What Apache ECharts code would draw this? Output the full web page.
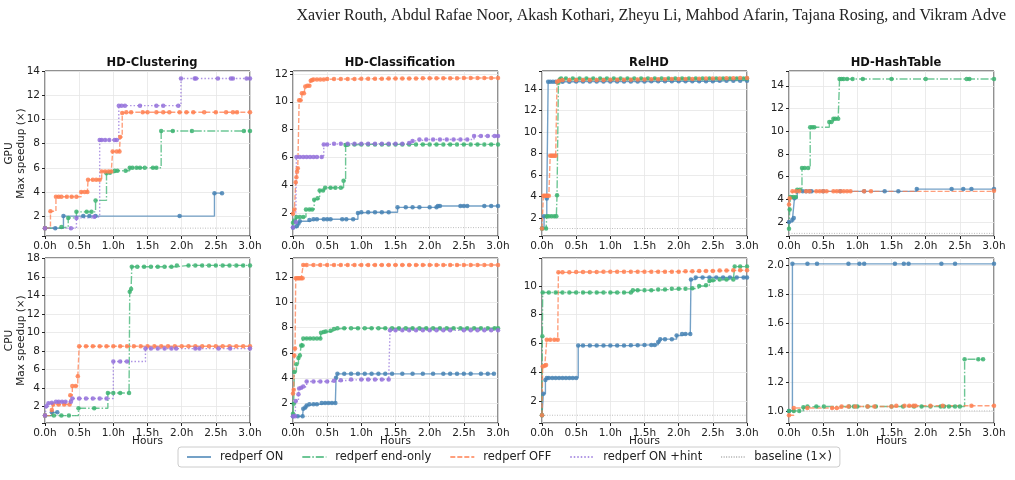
<!DOCTYPE html>
<html>
<head>
<meta charset="utf-8">
<script src="https://cdn.jsdelivr.net/npm/echarts@6/dist/echarts.min.js"></script>
<style>
html, body { margin: 0; padding: 0; background: #fff; }
#chart { width: 1015px; height: 480px; }
</style>
</head>
<body>
<div id="chart"></div>
<script>
var authors = 'Xavier Routh, Abdul Rafae Noor, Akash Kothari, Zheyu Li, Mahbod Afarin, Tajana Rosing, and Vikram Adve';
var panelTitles = ['HD-Clustering', 'HD-Classification', 'RelHD', 'HD-HashTable'];
var rowNames = ['GPU', 'CPU'];
var seriesNames = ['redperf ON', 'redperf end-only', 'redperf OFF', 'redperf ON +hint'];
var baselineName = 'baseline (1×)';
var baselineValue = 1;
var xMax = 3, xStep = 0.5;
// y range of each panel (GPU row first, then CPU row) and tick step
var yLimits = [[0.35, 14.02], [0.4, 12.2], [0.3, 15.7], [0.77, 15.3], [0.2, 18.05], [0.47, 13.5], [0.46, 11.95], [0.917, 2.05]];
var ySteps = [2, 2, 2, 2, 2, 2, 2, 0.2];

// ---- GPU HD-Clustering
var gpuClusterOn = [[0,1],[0.15,1],[0.27,2],[0.56,2],[0.65,2],[0.74,2],[1.97,2],[2.48,3.9],[2.59,3.9]];
var gpuClusterEnd = [[0,1],[0.24,1.1],[0.34,1.85],[0.46,2.35],[0.61,2.35],[0.68,2.35],[0.74,3.3],[0.9,5.55],[0.95,5.6],[1.02,5.75],[1.06,5.75],[1.18,5.75],[1.24,6],[1.28,6],[1.34,6],[1.39,6],[1.46,6],[1.58,6],[1.63,6],[1.7,9.05],[1.87,9.05],[2.15,9.05],[2.91,9.05],[3,9.05]];
var gpuClusterOff = [[0,1],[0.08,2.4],[0.16,3.6],[0.2,3.6],[0.24,3.6],[0.32,3.6],[0.39,3.6],[0.46,3.6],[0.53,4],[0.58,4],[0.62,4],[0.63,5],[0.7,5],[0.75,5],[0.8,5],[0.83,5.7],[0.88,5.7],[0.93,5.7],[0.97,5.7],[0.99,7.35],[1.05,7.35],[1.09,7.35],[1.1,8.55],[1.13,10.55],[1.19,10.6],[1.26,10.6],[1.43,10.6],[1.5,10.6],[1.63,10.6],[1.73,10.6],[1.82,10.6],[1.97,10.6],[2.07,10.6],[2.17,10.6],[2.33,10.6],[2.5,10.6],[2.65,10.6],[2.75,10.6],[2.81,10.6],[3,10.6]];
var gpuClusterHint = [[0,1],[0.38,1],[0.46,1.85],[0.72,1.95],[0.8,8.3],[0.83,8.3],[0.88,8.3],[0.94,8.3],[1.02,8.3],[1.05,8.3],[1.08,11.15],[1.12,11.15],[1.17,11.15],[1.39,11.15],[1.63,11.15],[1.73,11.15],[1.95,11.15],[1.99,13.4],[2.19,13.4],[2.21,13.4],[2.53,13.4],[2.72,13.4],[2.75,13.4],[2.95,13.4],[3,13.4]];

// ---- GPU HD-Classification
var gpuClassOn = [[0,1],[0.05,1.1],[0.08,1.3],[0.1,1.45],[0.24,1.55],[0.3,1.6],[0.35,1.6],[0.45,1.6],[0.5,1.6],[0.55,1.6],[0.72,1.6],[0.78,1.6],[0.88,1.6],[0.95,2.05],[1,2.1],[1.1,2.1],[1.2,2.1],[1.3,2.1],[1.4,2.1],[1.53,2.45],[1.65,2.45],[1.75,2.45],[1.85,2.45],[2,2.45],[2.1,2.45],[2.12,2.55],[2.15,2.55],[2.45,2.55],[2.5,2.55],[2.55,2.55],[2.8,2.55],[2.9,2.55],[3,2.55]];
var gpuClassEnd = [[0,1.35],[0.02,1.5],[0.05,1.75],[0.1,1.75],[0.15,1.75],[0.19,2.3],[0.24,2.3],[0.28,2.3],[0.31,3],[0.36,3.1],[0.39,3.65],[0.44,3.65],[0.47,3.85],[0.55,3.85],[0.62,3.85],[0.7,3.85],[0.74,4.35],[0.77,6.9],[0.8,6.92],[0.9,6.95],[1,6.95],[1.1,6.95],[1.2,6.95],[1.3,6.95],[1.4,6.95],[1.5,6.95],[1.6,6.95],[1.7,6.95],[1.8,6.95],[1.9,6.95],[2,6.95],[2.1,6.95],[2.2,6.95],[2.3,6.95],[2.4,6.95],[2.5,6.95],[2.6,6.95],[2.7,6.95],[2.8,6.95],[2.9,6.95],[3,6.95]];
var gpuClassOff = [[0,2],[0.02,2.3],[0.04,4.25],[0.05,4.6],[0.06,5],[0.07,5.25],[0.09,10.1],[0.11,10.1],[0.13,10.6],[0.16,10.6],[0.18,11.1],[0.21,11.15],[0.24,11.15],[0.26,11.5],[0.28,11.55],[0.3,11.6],[0.35,11.6],[0.4,11.6],[0.45,11.6],[0.5,11.62],[0.6,11.62],[0.7,11.63],[0.8,11.63],[0.9,11.63],[1,11.64],[1.1,11.65],[1.2,11.65],[1.3,11.65],[1.4,11.66],[1.5,11.66],[1.6,11.66],[1.7,11.67],[1.8,11.67],[1.9,11.68],[2,11.68],[2.1,11.68],[2.2,11.68],[2.3,11.69],[2.4,11.69],[2.5,11.7],[2.6,11.7],[2.7,11.7],[2.8,11.7],[2.9,11.7],[3,11.7]];
var gpuClassHint = [[0,1],[0.04,1.4],[0.05,6.05],[0.1,6.05],[0.15,6.05],[0.2,6.05],[0.25,6.05],[0.3,6.05],[0.35,6.05],[0.42,6.05],[0.45,6.95],[0.5,6.95],[0.6,7],[0.7,7],[0.8,7],[0.9,7],[1,7],[1.1,7],[1.2,7],[1.3,7],[1.4,7],[1.5,7],[1.6,7],[1.7,7.05],[1.75,7.2],[1.85,7.3],[1.95,7.3],[2.05,7.3],[2.15,7.3],[2.25,7.3],[2.35,7.3],[2.45,7.3],[2.55,7.3],[2.65,7.55],[2.75,7.55],[2.85,7.55],[2.95,7.55],[3,7.55]];

// ---- GPU RelHD
var gpuRelOn = [[0,1],[0.03,2.15],[0.07,3.8],[0.09,14.7],[0.12,14.7],[0.16,14.7],[0.2,14.7],[0.3,14.7],[0.4,14.7],[0.5,14.72],[0.6,14.72],[0.7,14.72],[0.8,14.72],[0.9,14.72],[1,14.72],[1.1,14.72],[1.2,14.72],[1.3,14.72],[1.4,14.72],[1.5,14.72],[1.6,14.75],[1.7,14.75],[1.8,14.75],[1.9,14.75],[2,14.75],[2.1,14.75],[2.2,14.75],[2.3,14.75],[2.4,14.75],[2.5,14.75],[2.6,14.8],[2.7,14.8],[2.8,14.8],[2.9,14.8],[3,14.8]];
var gpuRelEnd = [[0,1],[0.06,1],[0.07,2.15],[0.1,2.15],[0.14,2.15],[0.18,2.15],[0.21,2.15],[0.22,4.1],[0.24,14.6],[0.26,14.9],[0.28,15],[0.35,15],[0.45,15],[0.55,15],[0.65,15],[0.75,15],[0.85,15],[0.95,15],[1.05,15],[1.15,15],[1.25,15],[1.35,15],[1.45,15],[1.55,15],[1.65,15],[1.75,15],[1.85,15],[1.95,15],[2.05,15],[2.15,15],[2.25,15],[2.35,15],[2.45,15],[2.55,15],[2.65,15],[2.75,15],[2.85,15],[2.95,15],[3,15]];
var gpuRelOff = [[0,1],[0.02,4.05],[0.04,4.05],[0.06,4.05],[0.08,4.05],[0.1,4.05],[0.12,7.8],[0.14,7.8],[0.16,7.8],[0.18,7.8],[0.2,7.8],[0.22,14.7],[0.25,14.8],[0.3,14.85],[0.4,14.85],[0.5,14.85],[0.6,14.85],[0.7,14.85],[0.8,14.85],[0.9,14.85],[1,14.88],[1.1,14.88],[1.2,14.88],[1.3,14.88],[1.4,14.9],[1.5,14.9],[1.6,14.92],[1.7,14.92],[1.8,14.92],[1.9,14.95],[2,14.95],[2.1,14.95],[2.2,14.95],[2.3,14.97],[2.4,15],[2.5,15],[2.6,15],[2.7,15.02],[2.8,15.02],[2.9,15.05],[3,15.05]];

// ---- GPU HD-HashTable
var gpuHashOn = [[0,2],[0.05,2.2],[0.07,2.35],[0.08,4.1],[0.12,4.7],[0.2,4.7],[0.25,4.7],[0.3,4.7],[0.33,4.7],[0.5,4.7],[0.75,4.7],[1.1,4.7],[1.4,4.7],[1.6,4.7],[1.87,4.9],[2.38,4.9],[2.55,4.9],[2.67,4.9],[3,4.9]];
var gpuHashEnd = [[0,1.4],[0.01,3.1],[0.02,4.2],[0.06,4.2],[0.1,4.2],[0.12,4.85],[0.16,4.85],[0.19,6.75],[0.23,6.75],[0.28,6.75],[0.31,10.35],[0.34,10.35],[0.37,10.35],[0.59,10.8],[0.62,10.8],[0.65,11.1],[0.68,11.1],[0.72,11.1],[0.74,14.6],[0.77,14.6],[0.8,14.6],[0.85,14.6],[0.93,14.6],[1.08,14.6],[1.5,14.6],[2,14.6],[2.6,14.6],[2.64,14.6],[3,14.6]];
var gpuHashOff = [[0,3.55],[0.01,4.1],[0.05,4.7],[0.1,4.7],[0.15,4.7],[0.25,4.7],[0.3,4.7],[0.4,4.7],[0.45,4.7],[0.5,4.7],[0.55,4.7],[0.65,4.7],[0.7,4.7],[0.75,4.7],[0.8,4.7],[0.85,4.7],[0.9,4.7],[1.1,4.7],[1.2,4.7],[3,4.75]];

// ---- CPU HD-Clustering
var cpuClusterOn = [[0,1],[0.1,1.35],[0.18,1.35]];
var cpuClusterEnd = [[0,1],[0.13,1],[0.24,1],[0.35,1],[0.49,1.8],[0.72,1.8],[0.92,3.45],[1,3.45],[1.1,3.45],[1.23,3.45],[1.24,14.4],[1.26,14.7],[1.27,17.1],[1.35,17.1],[1.45,17.1],[1.55,17.1],[1.65,17.1],[1.75,17.1],[1.85,17.1],[1.93,17.25],[2.1,17.25],[2.2,17.25],[2.3,17.25],[2.4,17.25],[2.5,17.25],[2.6,17.25],[2.7,17.25],[2.8,17.25],[2.9,17.25],[3,17.25]];
var cpuClusterOff = [[0,1],[0.1,1.6],[0.12,2.2],[0.2,2.2],[0.28,2.2],[0.36,2.2],[0.37,3.2],[0.4,4.2],[0.45,4.2],[0.48,5.25],[0.5,8.5],[0.6,8.5],[0.7,8.5],[0.8,8.5],[0.9,8.5],[1,8.5],[1.1,8.5],[1.2,8.5],[1.3,8.5],[1.4,8.5],[1.5,8.5],[1.6,8.5],[1.7,8.5],[1.8,8.5],[1.9,8.5],[2,8.5],[2.1,8.5],[2.2,8.5],[2.3,8.5],[2.4,8.5],[2.5,8.5],[2.6,8.5],[2.7,8.5],[2.8,8.5],[2.9,8.5],[3,8.5]];
var cpuClusterHint = [[0,1],[0.02,2],[0.05,2.35],[0.1,2.4],[0.16,2.5],[0.2,2.5],[0.25,2.5],[0.3,2.5],[0.38,2.5],[0.4,2.85],[0.5,2.85],[0.6,2.85],[0.7,2.85],[0.8,2.85],[0.9,2.85],[1,6.85],[1.1,6.85],[1.2,6.85],[1.47,8.25],[1.55,8.25],[1.65,8.25],[1.75,8.25],[1.85,8.25],[1.92,8.25],[2.2,8.25],[2.26,8.25],[2.54,8.25],[2.71,8.25],[3,8.25]];

// ---- CPU HD-Classification
var cpuClassOn = [[0,1],[0.07,1],[0.14,1],[0.15,1.6],[0.18,1.7],[0.2,1.85],[0.24,1.95],[0.3,1.95],[0.35,1.95],[0.42,2.05],[0.47,2.05],[0.52,2.05],[0.57,2.05],[0.62,2.05],[0.63,4.05],[0.65,4.35],[0.75,4.35],[0.85,4.35],[0.95,4.35],[1.05,4.35],[1.15,4.35],[1.25,4.35],[1.35,4.35],[1.45,4.35],[1.6,4.35],[1.75,4.35],[1.9,4.35],[2.05,4.35],[2.2,4.35],[2.3,4.35],[2.4,4.35],[2.5,4.35],[2.6,4.35],[2.75,4.35],[2.85,4.35],[2.94,4.35]];
var cpuClassEnd = [[0,1.2],[0.01,2],[0.02,4.5],[0.05,5.1],[0.08,5.6],[0.1,5.8],[0.12,6.6],[0.14,6.6],[0.15,7.15],[0.2,7.15],[0.25,7.15],[0.3,7.15],[0.35,7.15],[0.4,7.15],[0.41,7.6],[0.45,7.65],[0.48,7.7],[0.55,7.75],[0.6,7.9],[0.65,7.95],[0.75,7.95],[0.85,7.95],[0.95,7.95],[1.05,7.95],[1.15,7.95],[1.25,7.95],[1.35,7.95],[1.45,7.95],[1.55,7.95],[1.65,7.95],[1.75,7.95],[1.85,7.95],[1.95,7.95],[2.05,7.95],[2.15,7.95],[2.25,7.95],[2.35,7.95],[2.45,7.95],[2.55,7.95],[2.65,7.95],[2.75,7.95],[2.85,7.95],[2.95,7.95],[3,7.95]];
var cpuClassOff = [[0,2.8],[0.01,3.1],[0.02,5.8],[0.03,6.35],[0.04,11.9],[0.06,11.9],[0.08,11.9],[0.1,11.9],[0.12,11.9],[0.14,11.9],[0.15,12.95],[0.2,12.95],[0.3,12.95],[0.4,12.95],[0.5,12.95],[0.6,12.95],[0.7,12.95],[0.8,12.95],[0.9,12.95],[1,12.95],[1.1,12.95],[1.2,12.95],[1.3,12.95],[1.4,12.95],[1.5,12.95],[1.6,12.95],[1.7,12.95],[1.8,12.95],[1.9,12.95],[2,12.95],[2.1,12.95],[2.2,12.95],[2.3,12.95],[2.4,12.95],[2.5,12.95],[2.6,12.95],[2.7,12.95],[2.8,12.95],[2.9,12.95],[3,12.95]];
var cpuClassHint = [[0,1],[0.03,1],[0.04,2.2],[0.08,2.75],[0.09,3.2],[0.12,3.25],[0.15,3.35],[0.2,3.75],[0.3,3.75],[0.4,3.75],[0.5,3.75],[0.6,3.8],[0.7,3.85],[0.85,3.9],[1,3.9],[1.1,3.9],[1.2,3.9],[1.3,3.9],[1.4,3.9],[1.42,7.8],[1.5,7.8],[1.6,7.8],[1.7,7.8],[1.8,7.8],[1.9,7.8],[2,7.8],[2.1,7.8],[2.2,7.8],[2.3,7.8],[2.5,7.8],[2.6,7.8],[2.7,7.8],[2.8,7.8],[2.9,7.8],[3,7.8]];

// ---- CPU RelHD
var cpuRelOn = [[0,1],[0.02,2.5],[0.05,3.45],[0.07,3.6],[0.1,3.6],[0.15,3.6],[0.2,3.6],[0.25,3.6],[0.3,3.6],[0.35,3.6],[0.4,3.6],[0.45,3.6],[0.5,3.6],[0.53,5.85],[0.6,5.85],[0.7,5.85],[0.8,5.85],[0.9,5.85],[1,5.85],[1.1,5.85],[1.2,5.85],[1.3,5.88],[1.4,5.88],[1.5,5.9],[1.6,5.9],[1.65,5.9],[1.7,6.1],[1.73,6.3],[1.8,6.3],[1.9,6.3],[1.97,6.55],[2.05,6.65],[2.1,6.65],[2.17,6.65],[2.18,10.45],[2.25,10.6],[2.35,10.6],[2.45,10.6],[2.55,10.6],[2.65,10.6],[2.75,10.6],[2.85,10.6],[2.95,10.6],[3,10.6]];
var cpuRelEnd = [[0,1],[0.005,6.5],[0.01,9.55],[0.1,9.55],[0.2,9.55],[0.3,9.55],[0.4,9.55],[0.5,9.55],[0.6,9.55],[0.7,9.55],[0.8,9.55],[0.9,9.55],[1,9.55],[1.1,9.55],[1.2,9.55],[1.3,9.55],[1.33,9.7],[1.4,9.7],[1.5,9.7],[1.6,9.7],[1.7,9.75],[1.8,9.75],[1.9,9.8],[2,9.8],[2.1,9.8],[2.2,9.85],[2.3,10],[2.4,10.05],[2.45,10.35],[2.5,10.4],[2.6,10.45],[2.7,10.45],[2.8,10.45],[2.82,11.35],[2.9,11.35],[3,11.35]];
var cpuRelOff = [[0,1],[0.01,4.4],[0.04,4.45],[0.06,4.5],[0.07,6.25],[0.12,6.25],[0.18,6.25],[0.23,6.25],[0.24,10.95],[0.3,10.95],[0.4,10.95],[0.5,10.98],[0.6,10.98],[0.7,10.98],[0.8,10.98],[0.9,11],[1,11],[1.1,11],[1.2,11],[1.3,11],[1.4,11],[1.5,11],[1.6,11],[1.7,11],[1.8,11],[1.9,11],[2,11],[2.1,11.02],[2.2,11.02],[2.3,11.05],[2.4,11.05],[2.5,11.05],[2.6,11.08],[2.7,11.08],[2.8,11.1],[2.9,11.1],[3,11.1]];

// ---- CPU HD-HashTable
var cpuHashOn = [[0,1],[0.05,2.01],[0.27,2.01],[0.41,2.01],[0.87,2.01],[1.03,2.01],[1.1,2.01],[1.55,2.01],[1.68,2.01],[1.75,2.01],[2.23,2.01],[2.43,2.01],[3,2.01]];
var cpuHashEnd = [[0,1],[0.07,1],[0.15,1],[0.21,1.025],[0.27,1.03],[0.4,1.03],[0.51,1.03],[0.88,1.03],[0.95,1.03],[1,1.03],[1.15,1.03],[1.27,1.03],[1.5,1.03],[1.67,1.03],[1.83,1.03],[1.94,1.03],[2.07,1.03],[2.22,1.03],[2.27,1.03],[2.34,1.03],[2.43,1.03],[2.5,1.03],[2.57,1.355],[2.77,1.355],[2.84,1.355]];
var cpuHashOff = [[0,0.97],[0.07,1.02],[0.27,1.02],[0.63,1.02],[0.7,1.02],[0.77,1.03],[0.87,1.03],[0.97,1.03],[1.15,1.03],[1.25,1.03],[1.5,1.03],[1.57,1.035],[1.69,1.035],[1.76,1.035],[1.82,1.035],[1.85,1.035],[2.07,1.035],[2.25,1.035],[2.67,1.035],[3,1.035]];

var panels = [
  [gpuClusterOn, gpuClusterEnd, gpuClusterOff, gpuClusterHint],
  [gpuClassOn, gpuClassEnd, gpuClassOff, gpuClassHint],
  [gpuRelOn, gpuRelEnd, gpuRelOff, null],
  [gpuHashOn, gpuHashEnd, gpuHashOff, null],
  [cpuClusterOn, cpuClusterEnd, cpuClusterOff, cpuClusterHint],
  [cpuClassOn, cpuClassEnd, cpuClassOff, cpuClassHint],
  [cpuRelOn, cpuRelEnd, cpuRelOff, null],
  [cpuHashOn, cpuHashEnd, cpuHashOff, null]
];

var colors = ['#4682b4', '#3cb371', '#ff7f50', '#9370db'];
var dashes = ['solid', [8, 2, 1.5, 2], [5, 2], [1.5, 2]];
var gridLeft = [45, 293, 542, 789];
var gridTop = [71, 258];
var font = 'DejaVu Sans';

var grids = [], xAxes = [], yAxes = [], titles = [], series = [];

titles.push({
  text: authors, right: 4, top: 3,
  textStyle: { fontFamily: 'Liberation Serif', fontSize: 16, fontWeight: 'normal', color: '#222' }
});

panels.forEach(function (panel, p) {
  var row = Math.floor(p / 4), col = p % 4;
  var step = ySteps[p];
  grids.push({
    left: gridLeft[col], top: gridTop[row], width: 205, height: 165,
    show: true, borderColor: '#222', borderWidth: 1, outerBoundsMode: 'none'
  });
  xAxes.push({
    type: 'value', gridIndex: p, min: 0, max: xMax, interval: xStep,
    name: row === 1 ? 'Hours' : '', nameLocation: 'middle', nameGap: 13, nameMoveOverlap: false,
    nameTextStyle: { fontFamily: font, fontSize: 10.5, color: '#222' },
    axisLine: { show: false },
    axisTick: { show: true, length: 3, lineStyle: { color: '#222' } },
    axisLabel: { margin: 5, fontFamily: font, fontSize: 10.5, color: '#222',
      formatter: function (v) { return v.toFixed(1) + 'h'; } },
    splitLine: { show: true, lineStyle: { color: '#e6e6e6', width: 0.8 } }
  });
  yAxes.push({
    type: 'value', gridIndex: p, min: yLimits[p][0], max: yLimits[p][1],
    minInterval: step, maxInterval: step, splitNumber: 7,
    name: col === 0 ? rowNames[row] + '\nMax speedup (×)' : '',
    nameLocation: 'middle', nameGap: 17, nameMoveOverlap: false,
    nameTextStyle: { fontFamily: font, fontSize: 10.5, lineHeight: 12.5, color: '#222' },
    axisLine: { show: false },
    axisTick: { show: true, length: 3, lineStyle: { color: '#222' } },
    axisLabel: { margin: 5, fontFamily: font, fontSize: 10.5, color: '#222',
      formatter: function (v) {
        var k = v / step;
        if (Math.abs(k - Math.round(k)) > 1e-6) return '';
        return step < 1 ? v.toFixed(1) : String(Math.round(v));
      } },
    splitLine: { show: true, lineStyle: { color: '#e6e6e6', width: 0.8 } }
  });
  if (row === 0) {
    titles.push({
      text: panelTitles[col], left: gridLeft[col] + 102, top: 52, textAlign: 'center',
      textStyle: { fontFamily: font, fontSize: 11.5, fontWeight: 'bold', color: '#111' }
    });
  }
  series.push({
    name: baselineName, type: 'line', xAxisIndex: p, yAxisIndex: p,
    data: [[0, baselineValue], [xMax, baselineValue]], symbol: 'none',
    lineStyle: { color: '#bdbdbd', width: 1, type: [1, 1.5] }, color: '#bdbdbd', silent: true
  });
  panel.forEach(function (d, s) {
    if (!d) return;
    series.push({
      name: seriesNames[s], type: 'line', xAxisIndex: p, yAxisIndex: p,
      data: d, step: 'end', symbol: 'circle', symbolSize: 4.5, showAllSymbol: true,
      color: colors[s],
      itemStyle: { color: colors[s], opacity: 0.85 },
      lineStyle: { color: colors[s], width: 1.4, type: dashes[s], opacity: 0.75 },
      silent: true
    });
  });
});

var myChart = echarts.init(document.getElementById('chart'));
myChart.setOption({
  animation: false,
  backgroundColor: '#fff',
  textStyle: { fontFamily: font },
  title: titles,
  grid: grids,
  xAxis: xAxes,
  yAxis: yAxes,
  legend: {
    data: seriesNames.concat([baselineName]),
    left: 178, top: 447, orient: 'horizontal',
    padding: [4, 8], itemGap: 18, itemWidth: 24, itemHeight: 10,
    borderColor: '#cccccc', borderWidth: 1, borderRadius: 3, backgroundColor: '#fff',
    itemStyle: { opacity: 0 },
    textStyle: { fontFamily: font, fontSize: 11.5, color: '#222', padding: [0, 0, 0, 4] }
  },
  series: series
});
</script>
</body>
</html>
